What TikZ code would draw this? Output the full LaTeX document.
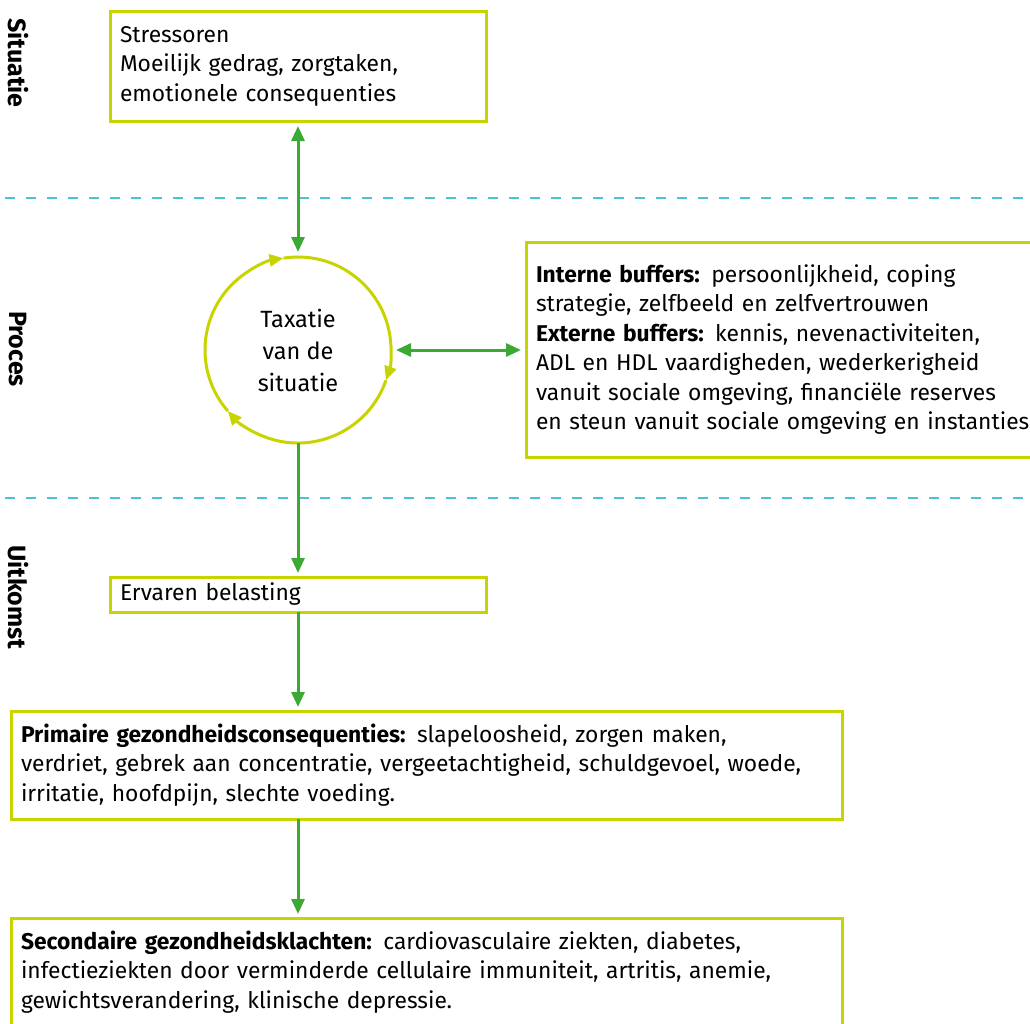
\documentclass[tikz,border=0pt]{standalone}
\usepackage{fontspec}
\setmainfont{Fira Sans}
\usetikzlibrary{arrows.meta}
\definecolor{limegreen}{HTML}{C8D400}
\definecolor{arrowgreen}{HTML}{3DA935}
\definecolor{dashblue}{HTML}{4CC1DA}
\tikzset{
  box/.style={draw=limegreen, line width=3pt, anchor=north west, align=left, outer sep=0pt,
    inner xsep=10pt, inner ysep=0pt, font=\fontsize{22.8}{29.5}\selectfont},
  link/.style={draw=arrowgreen, line width=3pt, >={Triangle[length=15pt,width=13pt]}},
  ring/.style={draw=limegreen, line width=3pt, -{Triangle[length=14pt,width=12pt]}},
  divider/.style={draw=dashblue, line width=2.5pt, dash pattern=on 10pt off 11pt},
  sidelabel/.style={rotate=-90, font=\fontsize{25}{30}\selectfont\bfseries}
}
\begin{document}
\begin{tikzpicture}[x=1pt,y=-1pt]
\useasboundingbox (0,0) rectangle (1030,1023);
\clip (0,0) rectangle (1030,1023);

\draw [divider] (5,198) -- (1030,198);
\draw [divider] (5,498) -- (1030,498);

\node [sidelabel] (situatie) at (18,63) {Situatie};
\node [sidelabel] (proces) at (18,349) {Proces};
\node [sidelabel] (uitkomst) at (18,597) {Uitkomst};

\node (stress) [box, text width=356pt, minimum height=110pt] at (110,11) {
Stressoren\\
Moeilijk gedrag, zorgtaken,\\
emotionele consequenties};

\node (taxatie) [circle, minimum size=186pt, inner sep=0pt, outer sep=0pt, align=center,
  font=\fontsize{23.5}{32}\selectfont] at (298,350) {Taxatie\\van de\\situatie};

\node (buffers) [box, text width=510pt, minimum height=215pt] at (526,242) {
\textbf{Interne buffers:} persoonlijkheid, coping\\
strategie, zelfbeeld en zelfvertrouwen\\
\textbf{Externe buffers:} kennis, nevenactiviteiten,\\
ADL en HDL vaardigheden, wederkerigheid\\
vanuit sociale omgeving, financiële reserves\\
en steun vanuit sociale omgeving en instanties};

\node (ervaren) [box, text width=356pt, minimum height=35pt] at (110,577) {Ervaren belasting};

\node (primaire) [box, text width=811pt, minimum height=108pt] at (11,711) {
\textbf{Primaire gezondheidsconsequenties:} slapeloosheid, zorgen maken,\\
verdriet, gebrek aan concentratie, vergeetachtigheid, schuldgevoel, woede,\\
irritatie, hoofdpijn, slechte voeding.};

\node (secundair) [box, text width=811pt, minimum height=108pt] at (11,918) {
\textbf{Secondaire gezondheidsklachten:} cardiovasculaire ziekten, diabetes,\\
infectieziekten door verminderde cellulaire immuniteit, artritis, anemie,\\
gewichtsverandering, klinische depressie.};

\draw [ring] (taxatie.221) arc[start angle=221, end angle=99, radius=93pt];
\draw [ring] (taxatie.99) arc[start angle=99, end angle=-19, radius=93pt];
\draw [ring] (taxatie.-19) arc[start angle=-19, end angle=-139, radius=93pt];

\draw [link, <->, shorten <=5pt, shorten >=5pt] (stress.south) -- (taxatie.north);
\draw [link, <->, shorten <=5pt, shorten >=5pt] (taxatie.east) -- (taxatie.east -| buffers.west);
\draw [link, ->, shorten >=4pt] (taxatie.south) -- (ervaren.north);
\draw [link, ->, shorten >=4pt] (ervaren.south) -- (ervaren.south |- primaire.north);
\draw [link, ->, shorten >=4pt] (primaire.south -| ervaren.south) -- (ervaren.south |- secundair.north);
\end{tikzpicture}
\end{document}
